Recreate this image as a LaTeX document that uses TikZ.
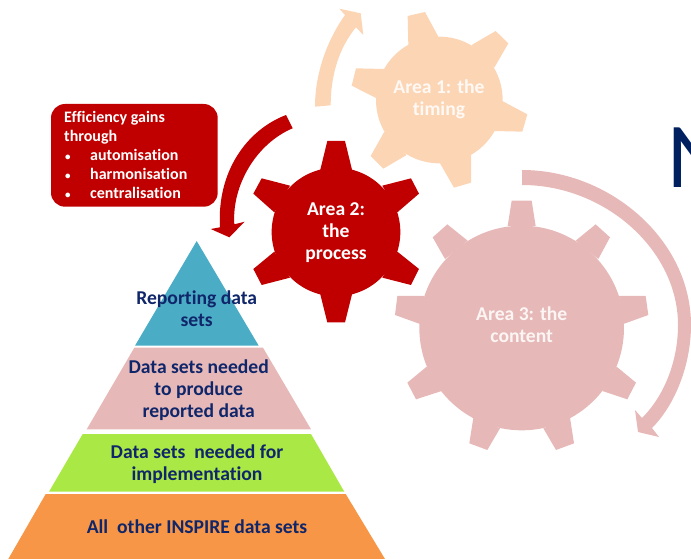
\documentclass[tikz,border=0pt]{standalone}
\usepackage{fontspec}
\setmainfont[Ligatures=CommonOff]{Carlito}
\definecolor{peach}{HTML}{FCD5B5}
\definecolor{rosey}{HTML}{E6B9B8}
\definecolor{darkred}{HTML}{C00000}
\definecolor{bluey}{HTML}{4BACC6}
\definecolor{greeny}{HTML}{A9E845}
\definecolor{orangey}{HTML}{F79646}
\definecolor{navy}{HTML}{002060}
\definecolor{txtnavy}{HTML}{10266A}
\tikzset{
  lab/.style={align=center,inner sep=0pt,font=\fontsize{19.6}{22}\selectfont\bfseries},
  pyrlab/.style={lab,text=txtnavy},
  gearlab/.style={lab,text=white},
}
\begin{document}
\begin{tikzpicture}[x=1pt,y=-1pt]
\useasboundingbox (0,0) rectangle (691,559);
\clip (0,0) rectangle (691,559);
% big letter cut by the edge
\node[anchor=base west,inner sep=0pt,text=navy,font=\fontsize{93}{93}\selectfont] (bigN) at (667,188) {N};
% arrows
\fill[peach] (315,106.7) .. controls (315,71.7) and (328.3,38.3) .. (345,15)
  -- (339.3,8.7) -- (360.7,13.3) -- (363.3,35) -- (356,27.3)
  .. controls (340,46.7) and (330.7,73.3) .. (330.7,105.3) -- cycle;
\fill[darkred] (286,115) .. controls (246.7,130) and (216.7,171.7) .. (220,227.3)
  -- (210.7,229) -- (229.3,237.3) -- (244.7,221.7) -- (234.3,224.3)
  .. controls (231.7,185) and (256.7,143.3) .. (292.7,128.3) -- cycle;
\fill[rosey] (522,170) .. controls (610,170) and (691,240) .. (691,325)
  .. controls (691,365) and (675,405) .. (652,428)
  -- (659,437) -- (638,432) -- (635,410) -- (642,418)
  .. controls (665,395) and (678,360) .. (678,325)
  .. controls (678,250) and (605,185) .. (522,185) -- cycle;
% gear 1
\begin{scope}[shift={(300,0)},scale=1/3]
\fill[peach] (418,300) circle (190);
\fill[peach] (325,135) -- (323,48) -- (375,36) -- (415,110) -- cycle;
\fill[peach] (515,135) -- (587,93) -- (625,130) -- (583,203) -- cycle;
\fill[peach] (607,303) -- (682,343) -- (667,395) -- (583,393) -- cycle;
\fill[peach] (513,465) -- (513,548) -- (462,563) -- (420,490) -- cycle;
\fill[peach] (320,465) -- (250,506) -- (212,468) -- (253,395) -- cycle;
\fill[peach] (230,295) -- (155,257) -- (168,205) -- (253,207) -- cycle;
\end{scope}
% gear 3
\begin{scope}[shift={(390,190)},scale=1/3]
\fill[rosey] (395,414) circle (307);
\fill[rosey] (353,108) -- (365,32) -- (425,32) -- (437,108) -- cycle;
\fill[rosey] (557,152) -- (617,103) -- (660,142) -- (625,207) -- cycle;
\fill[rosey] (687,318) -- (767,318) -- (775,375) -- (700,402) -- cycle;
\fill[rosey] (680,530) -- (738,578) -- (712,628) -- (637,603) -- cycle;
\fill[rosey] (540,683) -- (552,760) -- (498,780) -- (460,715) -- cycle;
\fill[rosey] (330,715) -- (292,780) -- (238,760) -- (250,683) -- cycle;
\fill[rosey] (155,603) -- (78,628) -- (52,578) -- (110,530) -- cycle;
\fill[rosey] (90,402) -- (15,375) -- (22,318) -- (103,318) -- cycle;
\fill[rosey] (165,207) -- (128,142) -- (172,103) -- (233,152) -- cycle;
\end{scope}
% gear 2
\begin{scope}[shift={(40,95)},scale=1/3]
\fill[darkred] (888,411) circle (193);
\fill[darkred] (840,228) -- (862,138) -- (915,138) -- (937,228) -- cycle;
\fill[darkred] (1027,272) -- (1113,250) -- (1137,296) -- (1072,352) -- cycle;
\fill[darkred] (1072,470) -- (1137,522) -- (1113,570) -- (1027,548) -- cycle;
\fill[darkred] (937,594) -- (915,682) -- (862,682) -- (840,594) -- cycle;
\fill[darkred] (750,548) -- (665,570) -- (640,522) -- (703,470) -- cycle;
\fill[darkred] (703,352) -- (640,296) -- (665,250) -- (750,272) -- cycle;
\end{scope}
% pyramid
\fill[bluey] (196.7,241) -- (258.7,345.7) -- (135,345.7) -- cycle;
\fill[rosey] (134.3,347.7) -- (263,347.7) -- (311,429.3) -- (86.7,429.3) -- cycle;
\fill[greeny] (82.7,434) -- (311,434) -- (344.3,491.7) -- (49,491.7) -- cycle;
\fill[orangey] (45.7,494) -- (345.7,494) -- (385,559) -- (8.3,559) -- cycle;
% efficiency box
\fill[darkred,rounded corners=14pt] (51,104) rectangle (217.7,206.7);
\node[anchor=north west,inner sep=0pt,align=left,text=white,font=\fontsize{16}{19}\selectfont\bfseries] (gains) at (64,111)
 {Efficiency gains\\through\\
  \hspace*{1pt}\makebox[25pt][l]{\fontsize{11}{19}\selectfont •}automisation\\
  \hspace*{1pt}\makebox[25pt][l]{\fontsize{11}{19}\selectfont •}harmonisation\\
  \hspace*{1pt}\makebox[25pt][l]{\fontsize{11}{19}\selectfont •}centralisation};
% labels
\node[gearlab,text=white!85!peach] (area1) at (439,99) {Area 1: the\\timing};
\node[gearlab] (area2) at (336,232.5) {Area 2:\\the\\process};
\node[gearlab,text=white!85!rosey] (area3) at (521.7,325) {Area 3: the\\content};
\node[pyrlab] (rep) at (196.7,309) {Reporting data\\sets};
\node[pyrlab] (prod) at (198.7,390) {Data sets needed\\to produce\\reported data};
\node[pyrlab] (impl) at (197,464) {Data sets\ \ needed for\\implementation};
\node[pyrlab] (other) at (197,527) {All\ \ other INSPIRE data sets};
\end{tikzpicture}
\end{document}
